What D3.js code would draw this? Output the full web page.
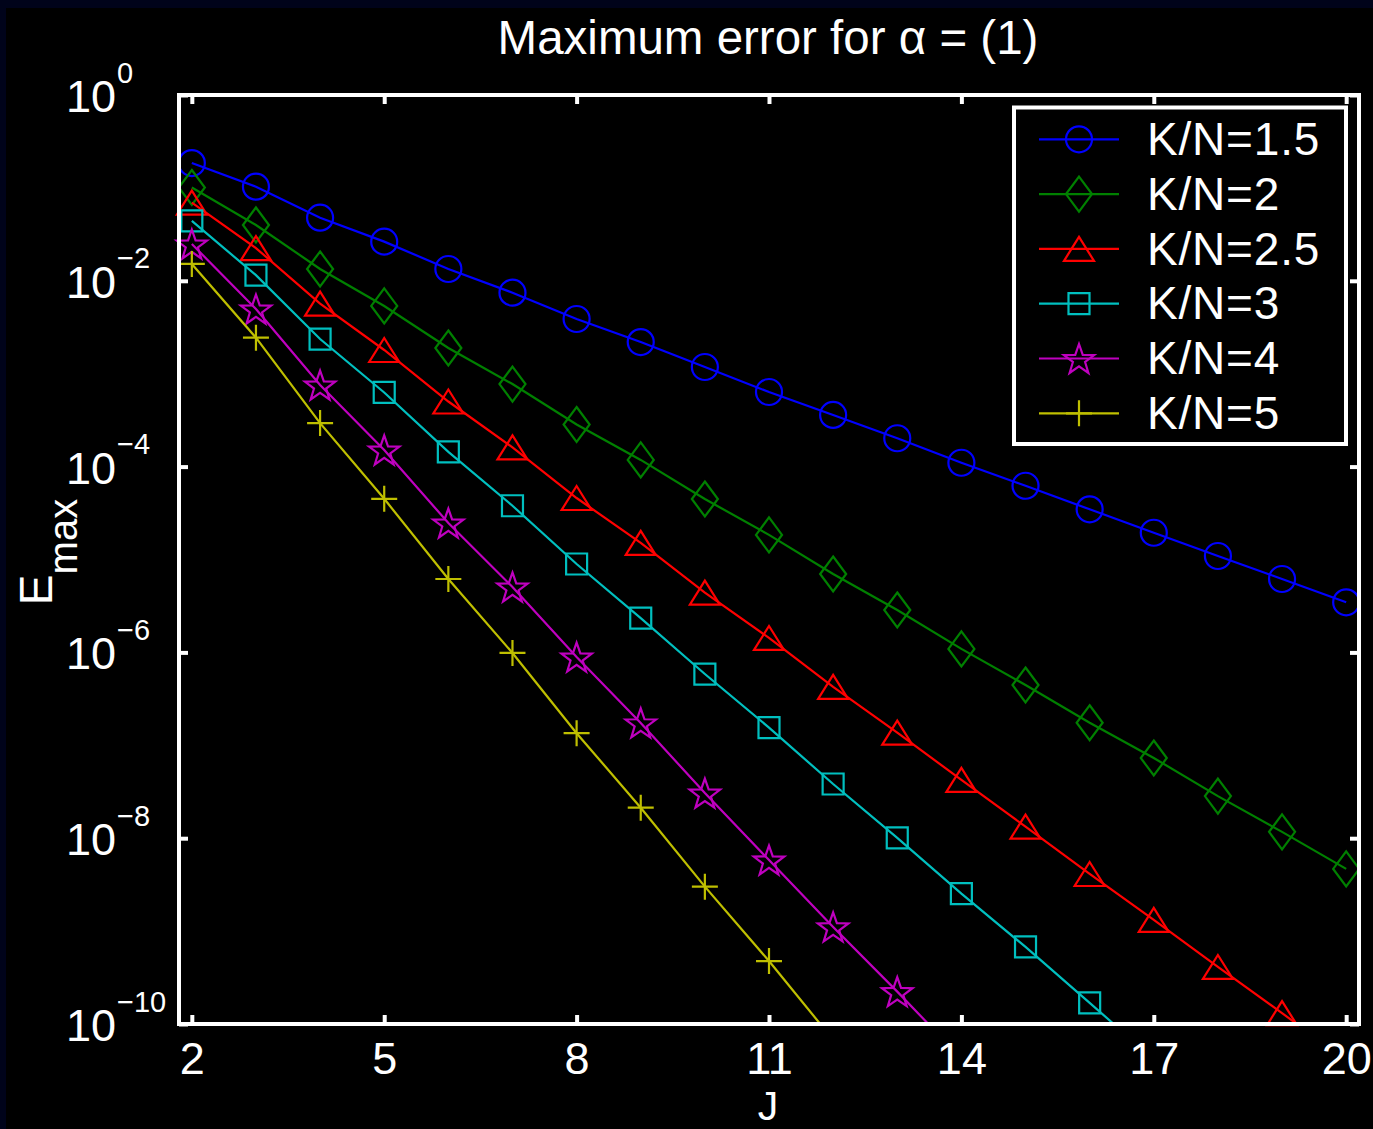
<!DOCTYPE html>
<html>
<head>
<meta charset="utf-8">
<script src="https://cdn.jsdelivr.net/npm/d3@7"></script>
<style>
  html, body { margin: 0; padding: 0; background: #000; }
  svg { display: block; }
  text { font-family: "Liberation Sans", Arial, Helvetica, sans-serif; fill: #fff; }
</style>
</head>
<body>
<svg id="chart" width="1373" height="1129"></svg>
<script>
// ---------- data ----------
const J = [2,3,4,5,6,7,8,9,10,11,12,13,14,15,16,17,18,19,20];
const seriesNames = ["K/N=1.5","K/N=2","K/N=2.5","K/N=3","K/N=4","K/N=5"];
const errKN15 = [1.85e-1,1.03e-1,4.78e-2,2.64e-2,1.34e-2,7.45e-3,3.88e-3,2.19e-3,1.18e-3,6.35e-4,3.60e-4,2.02e-4,1.10e-4,6.22e-5,3.47e-5,1.94e-5,1.09e-5,6.17e-6,3.46e-6];
const errKN2  = [1.01e-1,3.99e-2,1.34e-2,5.36e-3,1.89e-3,7.74e-4,2.84e-4,1.18e-4,4.48e-5,1.84e-5,6.98e-6,2.86e-6,1.09e-6,4.46e-7,1.75e-7,7.30e-8,2.84e-8,1.17e-8,4.67e-9];
const errKN25 = [6.93e-2,2.25e-2,5.68e-3,1.80e-3,5.02e-4,1.61e-4,4.59e-5,1.51e-5,4.40e-6,1.43e-6,4.25e-7,1.37e-7,4.24e-8,1.33e-8,4.12e-9,1.32e-9,4.11e-10,1.31e-10,4.07e-11];
const errKN3  = [4.41e-2,1.15e-2,2.36e-3,6.28e-4,1.44e-4,3.79e-5,8.95e-6,2.34e-6,5.85e-7,1.55e-7,3.83e-8,1.01e-8,2.53e-9,6.75e-10,1.69e-10,4.17e-11];
const errKN4  = [2.49e-2,4.97e-3,7.55e-4,1.51e-4,2.47e-5,5.06e-6,8.91e-7,1.74e-7,3.06e-8,5.82e-9,1.11e-9,2.23e-10,4.27e-11];
const errKN5  = [1.52e-2,2.44e-3,2.94e-4,4.50e-5,6.17e-6,9.86e-7,1.35e-7,2.13e-8,3.01e-9,4.76e-10,6.76e-11];
const xTicks = [2,5,8,11,14,17,20];
const yTickExponents = [0,-2,-4,-6,-8,-10];

// ---------- styles ----------
const colors = ["#0000ff","#008000","#ff0000","#00bfbf","#bf00bf","#bfbf00"];
const markerNames = ["circle","diamond","triangle","square","star","plus"];
const allSeries = [errKN15, errKN2, errKN25, errKN3, errKN4, errKN5];

const W = 1373, H = 1129;
const L = 179, R = 1359, T = 95, B = 1024;

const svg = d3.select("#chart");
svg.append("rect").attr("width", W).attr("height", H).attr("fill", "#00031a");
svg.append("rect").attr("x", 6).attr("y", 8).attr("width", W - 6).attr("height", H - 8).attr("fill", "#000");

const x = d3.scaleLinear().domain([1.8, 20.2]).range([L, R]);
const y = d3.scaleLog().domain([1e-10, 1]).range([B, T]);

// marker shapes
const markers = {
  circle:   { draw(c) { c.moveTo(13, 0); c.arc(0, 0, 13, 0, 2 * Math.PI); } },
  diamond:  { draw(c) { c.moveTo(0, -17.5); c.lineTo(13, 0); c.lineTo(0, 17.5); c.lineTo(-13, 0); c.closePath(); } },
  triangle: { draw(c) { c.moveTo(0, -12); c.lineTo(15, 12); c.lineTo(-15, 12); c.closePath(); } },
  square:   { draw(c) { c.rect(-10.5, -10.5, 21, 21); } },
  star:     { draw(c) {
      const Ro = 16, Ri = Ro * 0.40;
      for (let i = 0; i < 10; i++) {
        const r = i % 2 === 0 ? Ro : Ri;
        const a = -Math.PI / 2 + i * Math.PI / 5;
        const px = r * Math.cos(a), py = r * Math.sin(a) + 1.5;
        if (i === 0) c.moveTo(px, py); else c.lineTo(px, py);
      }
      c.closePath();
  } },
  plus:     { draw(c) { c.moveTo(-13, 0); c.lineTo(13, 0); c.moveTo(0, -13); c.lineTo(0, 13); } }
};
const symbolPath = name => d3.symbol().type(markers[name])();

// clip
svg.append("defs").append("clipPath").attr("id", "plotclip")
  .append("rect").attr("x", L).attr("y", T).attr("width", R - L).attr("height", B - T);

const plot = svg.append("g");
const line = d3.line().x(d => x(d[0])).y(d => y(d[1]));

allSeries.forEach((vals, i) => {
  const pts = vals.map((v, k) => [J[k], v]);
  plot.append("path")
    .attr("clip-path", "url(#plotclip)")
    .attr("d", line(pts))
    .attr("fill", "none")
    .attr("stroke", colors[i])
    .attr("stroke-width", 2.2);
  plot.selectAll(null)
    .data(pts.filter(p => p[1] >= 1e-10))
    .enter().append("path")
    .attr("transform", d => `translate(${x(d[0])},${y(d[1])})`)
    .attr("d", symbolPath(markerNames[i]))
    .attr("fill", "none")
    .attr("stroke", colors[i])
    .attr("stroke-width", 2.2);
});

// axes frame and ticks
const axisStyle = g => {
  g.select(".domain").remove();
  g.selectAll(".tick line").attr("stroke", "#fff").attr("stroke-width", 4);
};
svg.append("g").attr("transform", `translate(0,${B})`)
  .call(d3.axisBottom(x).tickValues(xTicks).tickSizeInner(-9).tickSizeOuter(0).tickPadding(18).tickFormat(d3.format("d")))
  .call(axisStyle)
  .call(g => g.selectAll(".tick text").attr("font-size", 45).attr("fill", "#fff")
    .attr("font-family", '"Liberation Sans", Arial, sans-serif'));
svg.append("g").attr("transform", `translate(0,${T})`)
  .call(d3.axisTop(x).tickValues(xTicks).tickSizeInner(-9).tickSizeOuter(0).tickFormat(""))
  .call(axisStyle);
const yTickVals = yTickExponents.map(e => Math.pow(10, e));
svg.append("g").attr("transform", `translate(${L},0)`)
  .call(d3.axisLeft(y).tickValues(yTickVals).tickSizeInner(-9).tickSizeOuter(0).tickFormat(""))
  .call(axisStyle);
svg.append("g").attr("transform", `translate(${R},0)`)
  .call(d3.axisRight(y).tickValues(yTickVals).tickSizeInner(-9).tickSizeOuter(0).tickFormat(""))
  .call(axisStyle);

svg.append("rect").attr("x", L).attr("y", T).attr("width", R - L).attr("height", B - T)
  .attr("fill", "none").attr("stroke", "#fff").attr("stroke-width", 4);

// y tick labels 10^e
const ylab = svg.append("g");
yTickExponents.forEach((e, i) => {
  const yy = y(yTickVals[i]);
  ylab.append("text").attr("x", 116).attr("y", yy + 17).attr("text-anchor", "end")
    .attr("font-size", 45).text("10");
  ylab.append("text").attr("x", 117).attr("y", yy - 12.5).attr("text-anchor", "start")
    .attr("font-size", 29).text(e === 0 ? "0" : "\u2212" + Math.abs(e));
});

// title
svg.append("text").attr("x", 768).attr("y", 54).attr("text-anchor", "middle")
  .attr("font-size", 47.5).text("Maximum error for \u03b1 = (1)");

// x label
svg.append("text").attr("x", 768).attr("y", 1120).attr("text-anchor", "middle")
  .attr("font-size", 41).text("J");

// y label
const yl = svg.append("text").attr("transform", "translate(52,552) rotate(-90)")
  .attr("text-anchor", "middle");
yl.append("tspan").attr("font-size", 46).text("E");
yl.append("tspan").attr("font-size", 40).attr("dy", 25).text("max");

// legend
const lg = svg.append("g");
lg.append("rect").attr("x", 1014).attr("y", 107.5).attr("width", 332).attr("height", 336.5)
  .attr("fill", "#000").attr("stroke", "#fff").attr("stroke-width", 4);
seriesNames.forEach((name, i) => {
  const cy = 139.3 + i * 54.8;
  lg.append("line").attr("x1", 1039).attr("x2", 1119).attr("y1", cy).attr("y2", cy)
    .attr("stroke", colors[i]).attr("stroke-width", 2.2);
  lg.append("path").attr("transform", `translate(1079,${cy})`)
    .attr("d", symbolPath(markerNames[i]))
    .attr("fill", "none").attr("stroke", colors[i]).attr("stroke-width", 2.2);
  lg.append("text").attr("x", 1147).attr("y", cy + 15.7).attr("font-size", 46)
    .attr("letter-spacing", 0.8).text(name);
});
</script>
</body>
</html>
